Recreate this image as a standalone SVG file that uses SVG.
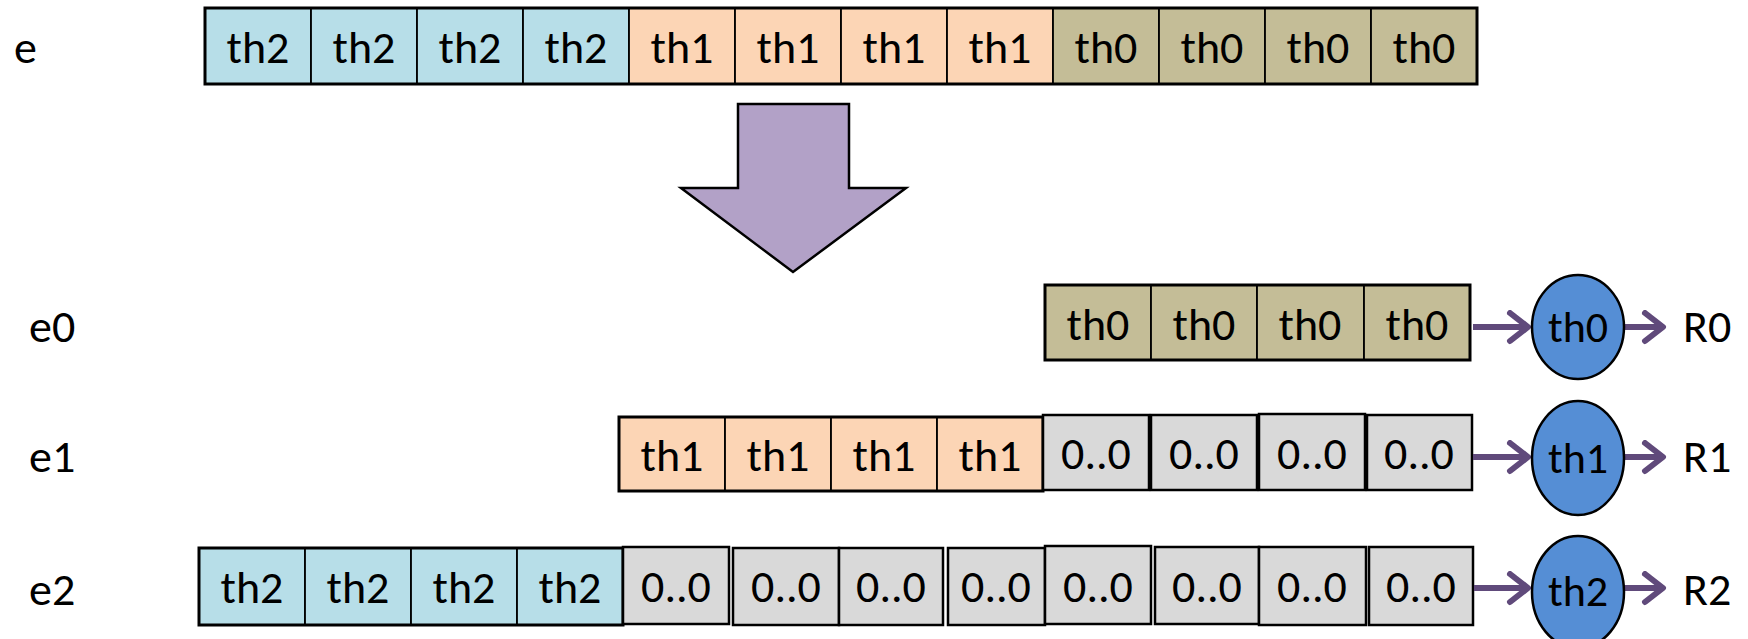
<svg xmlns="http://www.w3.org/2000/svg" width="1748" height="639" viewBox="0 0 1748 639">
<defs>
<style>
text{font-family:"Carlito","Liberation Sans",Arial,sans-serif;font-size:46px;fill:#000;}
.c{text-anchor:middle;}
.s{font-size:44px;}
.b{fill:#B7DEE8;stroke:#000;stroke-width:1.8;}
.o{fill:#FCD5B5;stroke:#000;stroke-width:1.8;}
.k{fill:#C4BD97;stroke:#000;stroke-width:1.8;}
.g{fill:#D9D9D9;stroke:#000;stroke-width:2.5;}
.frame{fill:none;stroke:#000;stroke-width:3;}
.el{fill:#558ED5;stroke:#000;stroke-width:2.5;}
.ar{stroke:#604A7B;stroke-width:6;fill:none;marker-end:url(#chev);}
</style>
<marker id="chev" markerUnits="userSpaceOnUse" markerWidth="30" markerHeight="36" refX="22" refY="17" orient="auto">
<path d="M4,3 L22,17 L4,31" fill="none" stroke="#604A7B" stroke-width="6" stroke-linecap="round" stroke-linejoin="round"/>
</marker>
</defs>
<rect width="1748" height="639" fill="#fff"/>

<g id="row-e">
<text x="14" y="63">e</text>
<rect class="b" x="205" y="8" width="106" height="76"/><text class="c" x="258" y="63">th2</text>
<rect class="b" x="311" y="8" width="106" height="76"/><text class="c" x="364" y="63">th2</text>
<rect class="b" x="417" y="8" width="106" height="76"/><text class="c" x="470" y="63">th2</text>
<rect class="b" x="523" y="8" width="106" height="76"/><text class="c" x="576" y="63">th2</text>
<rect class="o" x="629" y="8" width="106" height="76"/><text class="c" x="682" y="63">th1</text>
<rect class="o" x="735" y="8" width="106" height="76"/><text class="c" x="788" y="63">th1</text>
<rect class="o" x="841" y="8" width="106" height="76"/><text class="c" x="894" y="63">th1</text>
<rect class="o" x="947" y="8" width="106" height="76"/><text class="c" x="1000" y="63">th1</text>
<rect class="k" x="1053" y="8" width="106" height="76"/><text class="c" x="1106" y="63">th0</text>
<rect class="k" x="1159" y="8" width="106" height="76"/><text class="c" x="1212" y="63">th0</text>
<rect class="k" x="1265" y="8" width="106" height="76"/><text class="c" x="1318" y="63">th0</text>
<rect class="k" x="1371" y="8" width="106" height="76"/><text class="c" x="1424" y="63">th0</text>
<rect class="frame" x="205" y="8" width="1272" height="76"/>
</g>

<g id="big-arrow">
<polygon points="738,104 849,104 849,188 906,188 793,272 681,188 738,188" fill="#B2A1C7" stroke="#000" stroke-width="2.5"/>
</g>

<g id="row-e0">
<text x="29" y="342">e0</text>
<rect class="k" x="1045" y="285" width="106" height="75"/><text class="c" x="1098" y="340">th0</text>
<rect class="k" x="1151" y="285" width="106" height="75"/><text class="c" x="1204" y="340">th0</text>
<rect class="k" x="1257" y="285" width="107" height="75"/><text class="c" x="1310" y="340">th0</text>
<rect class="k" x="1364" y="285" width="106" height="75"/><text class="c" x="1417" y="340">th0</text>
<rect class="frame" x="1045" y="285" width="425" height="75"/>
</g>

<g id="row-e1">
<text x="29" y="472">e1</text>
<rect class="o" x="619" y="417" width="106" height="74"/><text class="c" x="672" y="471">th1</text>
<rect class="o" x="725" y="417" width="106" height="74"/><text class="c" x="778" y="471">th1</text>
<rect class="o" x="831" y="417" width="106" height="74"/><text class="c" x="884" y="471">th1</text>
<rect class="o" x="937" y="417" width="106" height="74"/><text class="c" x="990" y="471">th1</text>
<rect class="frame" x="619" y="417" width="424" height="74"/>
<rect class="g" x="1043" y="415" width="106" height="75"/><text class="c" x="1096" y="469">0..0</text>
<rect class="g" x="1151" y="415" width="106" height="75"/><text class="c" x="1204" y="469">0..0</text>
<rect class="g" x="1259" y="414" width="106" height="76"/><text class="c" x="1312" y="469">0..0</text>
<rect class="g" x="1367" y="415" width="105" height="75"/><text class="c" x="1419" y="469">0..0</text>
</g>

<g id="row-e2">
<text x="29" y="605">e2</text>
<rect class="b" x="199" y="548" width="106" height="77"/><text class="c" x="252" y="603">th2</text>
<rect class="b" x="305" y="548" width="106" height="77"/><text class="c" x="358" y="603">th2</text>
<rect class="b" x="411" y="548" width="106" height="77"/><text class="c" x="464" y="603">th2</text>
<rect class="b" x="517" y="548" width="106" height="77"/><text class="c" x="570" y="603">th2</text>
<rect class="frame" x="199" y="548" width="424" height="77"/>
<rect class="g" x="623" y="547" width="106" height="77"/><text class="c" x="676" y="602">0..0</text>
<rect class="g" x="733" y="548" width="106" height="77"/><text class="c" x="786" y="602">0..0</text>
<rect class="g" x="839" y="548" width="104" height="77"/><text class="c" x="891" y="602">0..0</text>
<rect class="g" x="948" y="548" width="97" height="77"/><text class="c" x="996" y="602">0..0</text>
<rect class="g" x="1045" y="546" width="106" height="78"/><text class="c" x="1098" y="602">0..0</text>
<rect class="g" x="1155" y="547" width="104" height="77"/><text class="c" x="1207" y="602">0..0</text>
<rect class="g" x="1259" y="547" width="107" height="78"/><text class="c" x="1312" y="602">0..0</text>
<rect class="g" x="1369" y="547" width="104" height="78"/><text class="c" x="1421" y="602">0..0</text>
</g>

<g id="connectors">
<line class="ar" x1="1473" y1="327" x2="1528" y2="327"/>
<line class="ar" x1="1625" y1="327" x2="1663" y2="327"/>
<line class="ar" x1="1473" y1="457" x2="1528" y2="457"/>
<line class="ar" x1="1625" y1="457" x2="1663" y2="457"/>
<line class="ar" x1="1474" y1="588" x2="1528" y2="588"/>
<line class="ar" x1="1625" y1="588" x2="1663" y2="588"/>
</g>

<g id="node-th0">
<ellipse class="el" cx="1578" cy="327" rx="46" ry="52"/><text class="c s" x="1578" y="342">th0</text>
</g>
<g id="node-th1">
<ellipse class="el" cx="1578" cy="458" rx="46" ry="57"/><text class="c s" x="1578" y="473">th1</text>
</g>
<g id="node-th2">
<ellipse class="el" cx="1578" cy="592" rx="46" ry="56"/><text class="c s" x="1578" y="606">th2</text>
</g>

<g id="labels-R">
<text x="1683" y="342">R0</text>
<text x="1683" y="472">R1</text>
<text x="1683" y="605">R2</text>
</g>
</svg>
